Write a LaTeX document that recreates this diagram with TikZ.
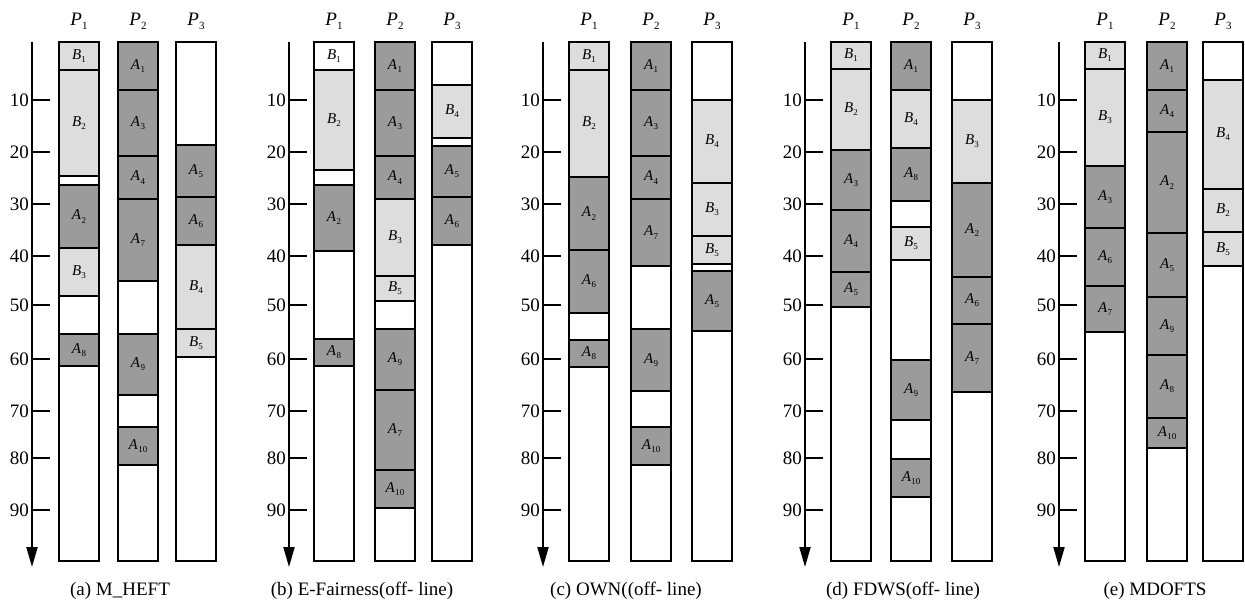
\documentclass[tikz,border=0pt]{standalone}
\usepackage{fontspec}
\setmainfont{Liberation Serif}
\usetikzlibrary{arrows.meta}
\definecolor{dk}{RGB}{155,155,155}
\definecolor{lt}{RGB}{221,221,221}
\newcommand\tlab[2]{\textit{#1}\kern0.3pt\raisebox{-0.45ex}{\fontsize{9}{9}\selectfont #2}}
\newcommand\plab[2]{\textit{#1}\kern0.3pt\raisebox{-0.45ex}{\fontsize{11}{11}\selectfont #2}}
% axis, ticks, column frames, column labels, caption
\newcommand\mypanel[7]{%
  \draw[axisline] (#2,42) -- (#2,567);
  \foreach \v/\yy in {10/100,20/152,30/204,40/256,50/305,60/359,70/411,80/458,90/510}{
    \draw[tickline] (#2,\yy) -- (#2+18,\yy);
    \node[ticklab] at (#2-3,\yy) {\v};
  }
  \node[colname] (#1p1) at (#3+20,21) {\plab{P}{1}};
  \node[colname] (#1p2) at (#4+20,21) {\plab{P}{2}};
  \node[colname] (#1p3) at (#5+20,21) {\plab{P}{3}};
  \node[captxt] (#1cap) at (#6,591) {#7};
}
\newcommand\mycols[4]{%
  \foreach \cx in {#2,#3,#4}{\draw[colframe] (\cx,42) rectangle (\cx+40,561);}
}
\newcommand\myblocks[3]{% panel id, column x, list T/N/y1/y2/colour
  \foreach \t/\n/\ya/\yb/\c in {#3}{
    \draw[blk,fill=\c] (#2,\ya) rectangle (#2+40,\yb);
    \node[blklab] (#1\t\n) at (#2+20,{(\ya+\yb)/2}) {\tlab{\t}{\n}};
  }
}
\begin{document}
\begin{tikzpicture}[x=1pt,y=-1pt,
  axisline/.style={line width=2pt,-{Triangle[length=20pt,width=11pt]}},
  tickline/.style={line width=2.4pt},
  ticklab/.style={anchor=east,inner sep=0pt,font=\fontsize{19}{21}\selectfont},
  colname/.style={inner sep=0pt,font=\fontsize{19}{21}\selectfont},
  captxt/.style={inner sep=0pt,font=\fontsize{19}{21}\selectfont},
  colframe/.style={draw=black,line width=2pt},
  blk/.style={draw=black,line width=1.6pt},
  blklab/.style={inner sep=0pt,font=\fontsize{15}{16}\selectfont}]
\useasboundingbox[fill=white] (0,0) rectangle (1245,602);

% ---------- (a) M_HEFT ----------
\mypanel{a}{32}{59}{118}{176}{120}{(a) M\_HEFT}
\myblocks{a1}{59}{B/1/42/70/lt, B/2/70/176/lt, A/2/185/248/dk, B/3/248/296/lt, A/8/334/366/dk}
\myblocks{a2}{118}{A/1/42/90/dk, A/3/90/156/dk, A/4/156/199/dk, A/7/199/281/dk, A/9/334/395/dk, A/10/427/465/dk}
\myblocks{a3}{176}{A/5/145/197/dk, A/6/197/245/dk, B/4/245/329/lt, B/5/329/357/lt}
\mycols{a}{59}{118}{176}

% ---------- (b) E-Fairness ----------
\mypanel{b}{289}{314}{375}{432}{362}{(b) E-Fairness(off- line)}
\myblocks{b1}{314}{B/1/42/70/white, B/2/70/170/lt, A/2/185/251/dk, A/8/339/366/dk}
\myblocks{b2}{375}{A/1/42/90/dk, A/3/90/156/dk, A/4/156/199/dk, B/3/199/276/lt, B/5/276/301/lt, A/9/329/390/dk, A/7/390/470/dk, A/10/470/508/dk}
\myblocks{b3}{432}{B/4/85/138/lt, A/5/146/197/dk, A/6/197/245/dk}
\mycols{b}{314}{375}{432}

% ---------- (c) OWN ----------
\mypanel{c}{543}{569}{631}{692}{626}{(c) OWN((off- line)}
\myblocks{c1}{569}{B/1/42/70/lt, B/2/70/177/lt, A/2/177/250/dk, A/6/250/313/dk, A/8/340/367/dk}
\myblocks{c2}{631}{A/1/42/90/dk, A/3/90/156/dk, A/4/156/199/dk, A/7/199/266/dk, A/9/329/391/dk, A/10/427/465/dk}
\myblocks{c3}{692}{B/4/100/183/lt, B/3/183/236/lt, B/5/236/264/lt, A/5/271/331/dk}
\mycols{c}{569}{631}{692}

% ---------- (d) FDWS ----------
\mypanel{d}{805}{831}{891}{952}{903}{(d) FDWS(off- line)}
\myblocks{d1}{831}{B/1/42/69/lt, B/2/69/150/lt, A/3/150/210/dk, A/4/210/272/dk, A/5/272/307/dk}
\myblocks{d2}{891}{A/1/42/90/dk, B/4/90/148/lt, A/8/148/201/dk, B/5/227/260/lt, A/9/360/420/dk, A/10/459/497/dk}
\myblocks{d3}{952}{B/3/100/183/lt, A/2/183/277/dk, A/6/277/324/dk, A/7/324/392/dk}
\mycols{d}{831}{891}{952}

% ---------- (e) MDOFTS ----------
\mypanel{e}{1059}{1085}{1147}{1203}{1155}{(e) MDOFTS}
\myblocks{e1}{1085}{B/1/42/69/lt, B/3/69/166/lt, A/3/166/228/dk, A/6/228/286/dk, A/7/286/332/dk}
\myblocks{e2}{1147}{A/1/42/90/dk, A/4/90/132/dk, A/2/132/233/dk, A/5/233/297/dk, A/9/297/355/dk, A/8/355/418/dk, A/10/418/448/dk}
\myblocks{e3}{1203}{B/4/80/189/lt, B/2/189/232/lt, B/5/232/266/lt}
\mycols{e}{1085}{1147}{1203}
\end{tikzpicture}
\end{document}
